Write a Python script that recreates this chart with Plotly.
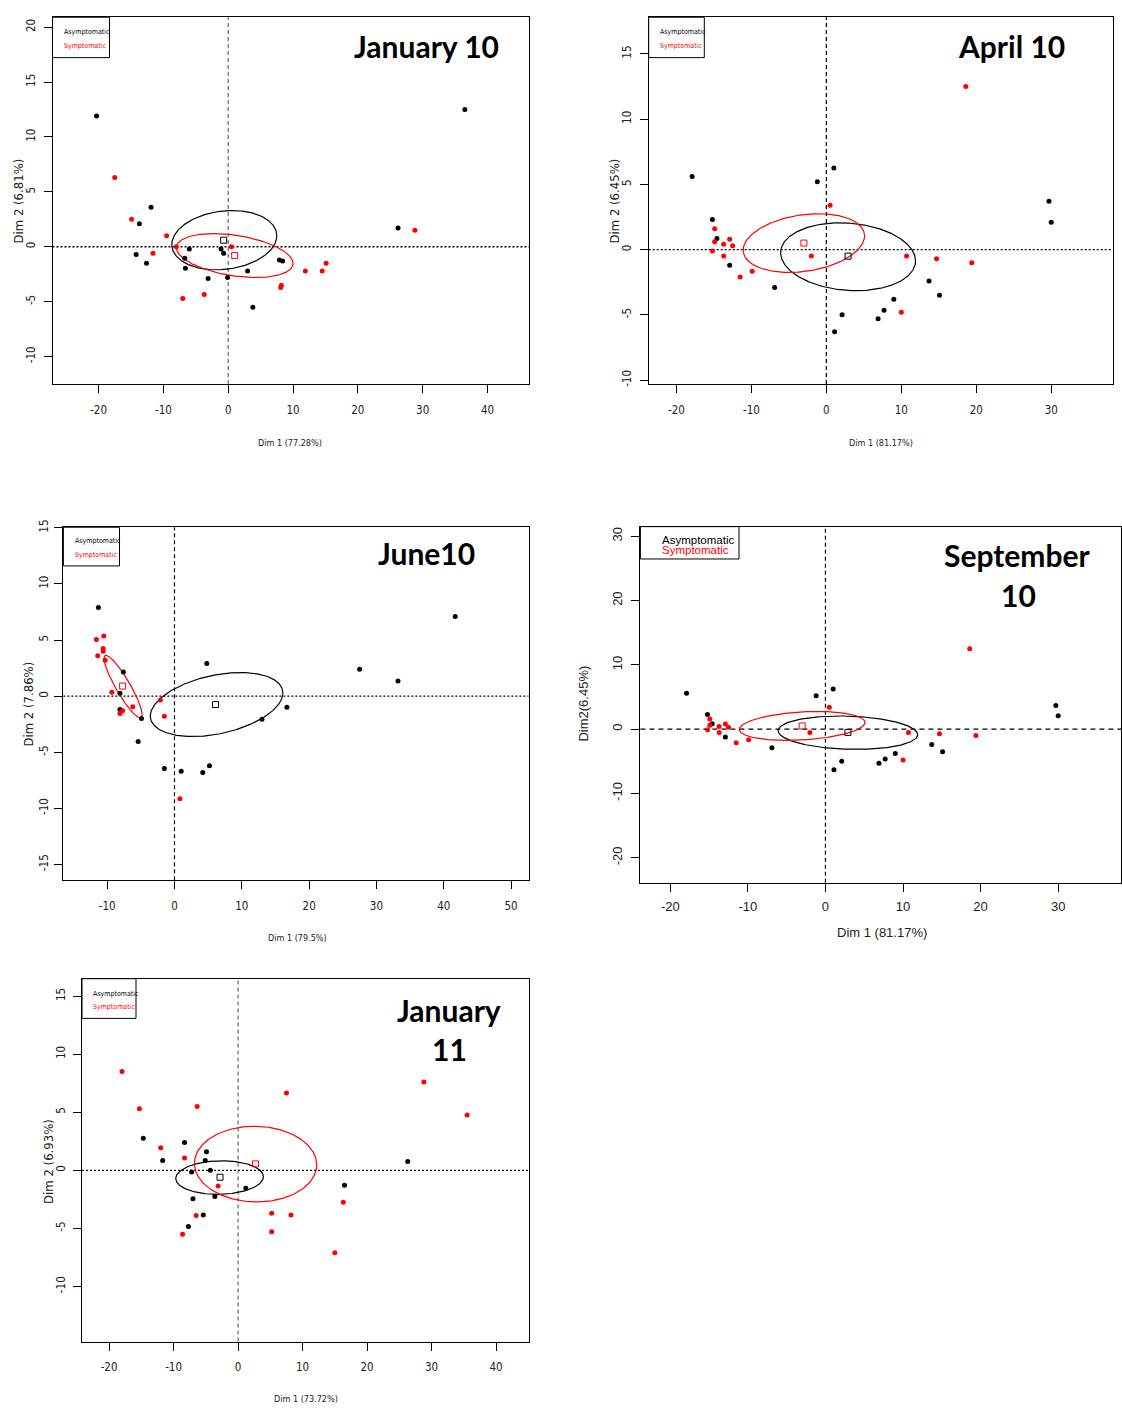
import numpy as np
import plotly.graph_objects as go

W, H = 1122, 1414

# ---------------- January 10 ----------------
jan10_asym_x = [-20.3, 36.5, -11.9, -13.7, -14.2, -12.6, -6.0, -6.7, -6.6, -3.1, -1.1, -0.7, -0.1, 3.0, 3.8, 7.9, 8.4, 26.2]
jan10_asym_y = [11.9, 12.5, 3.6, 2.1, -0.7, -1.5, -0.2, -1.05, -1.95, -2.9, -0.2, -0.6, -2.8, -2.2, -5.5, -1.2, -1.3, 1.7]
jan10_sym_x = [-17.5, -14.9, -9.5, -11.6, -8.0, -7.0, -3.7, 0.5, 8.2, 8.1, 11.9, 14.5, 15.1, 28.8]
jan10_sym_y = [6.3, 2.5, 1.0, -0.6, 0.0, -4.7, -4.35, 0.0, -3.5, -3.7, -2.2, -2.2, -1.5, 1.5]
jan10_asym_center = [-0.7, 0.6]
jan10_sym_center = [1.0, -0.8]
# ellipse: centre x, centre y, half-width, half-height, correlation
jan10_asym_ellipse = [-0.6, 0.6, 8.1, 2.7, 0.15]
jan10_sym_ellipse = [1.0, -0.8, 9.0, 2.0, -0.36]

# ---------------- April 10 / September 10 (same coordinates) ----------------
apr10_asym_x = [-17.9, -1.2, 1.0, -15.2, -14.6, -12.9, -6.9, 2.1, 1.1, 6.9, 7.7, 9.0, 13.7, 15.1, 29.7, 30.0]
apr10_asym_y = [5.6, 5.2, 6.25, 2.3, 0.85, -1.2, -2.9, -5.0, -6.3, -5.3, -4.65, -3.8, -2.4, -3.5, 3.7, 2.1]
apr10_sym_x = [18.6, 0.5, -14.9, -14.9, -15.2, -13.7, -12.9, -12.5, -13.7, -11.5, -9.9, -2.0, 10.7, 14.7, 19.4, 10.0]
apr10_sym_y = [12.5, 3.4, 1.6, 0.6, -0.1, 0.4, 0.8, 0.3, -0.5, -2.1, -1.65, -0.5, -0.5, -0.7, -1.0, -4.8]
apr10_asym_center = [2.9, -0.5]
apr10_sym_center = [-3.0, 0.5]
apr10_asym_ellipse = [2.9, -0.55, 9.0, 2.6, -0.12]
apr10_sym_ellipse = [-3.0, 0.5, 8.1, 2.25, 0.24]

# ---------------- June 10 ----------------
jun10_asym_x = [-11.3, -7.6, -8.1, -8.1, -4.9, -5.4, -1.5, 1.0, 4.2, 5.2, 4.8, 13.0, 16.7, 27.5, 33.2, 41.7]
jun10_asym_y = [7.9, 2.15, 0.25, -1.2, -2.0, -4.05, -6.45, -6.7, -6.8, -6.2, 2.9, -2.05, -1.0, 2.4, 1.35, 7.1]
jun10_sym_x = [-11.6, -10.5, -10.6, -10.6, -11.4, -10.3, -9.3, -6.2, -7.7, -8.1, -2.1, -1.5, 0.8]
jun10_sym_y = [5.05, 5.35, 4.25, 4.0, 3.6, 3.2, 0.35, -0.95, -1.3, -1.55, -0.35, -1.8, -9.15]
jun10_asym_center = [6.1, -0.75]
jun10_sym_center = [-7.7, 0.9]
jun10_asym_ellipse = [6.25, -0.75, 9.85, 2.85, 0.36]
jun10_sym_ellipse = [-7.63, 0.85, 2.83, 2.79, -0.90]

# ---------------- January 11 ----------------
jan11_asym_x = [-14.7, -11.7, -8.3, -4.9, -5.1, -7.2, -4.3, -7.0, -3.6, -5.4, -7.7, 1.2, 16.5, 26.3]
jan11_asym_y = [2.75, 0.85, 2.4, 1.6, 0.85, -0.15, 0.0, -2.45, -2.25, -3.85, -4.85, -1.55, -1.3, 0.75]
jan11_sym_x = [-18.0, -15.3, -6.35, -12.0, -8.3, -3.1, -6.5, -8.6, 7.5, 5.2, 8.2, 5.2, 15.0, 16.3, 28.8, 35.5]
jan11_sym_y = [8.5, 5.3, 5.5, 1.95, 1.05, -1.35, -3.9, -5.5, 6.65, -3.7, -3.85, -5.3, -7.1, -2.75, 7.6, 4.75]
jan11_asym_center = [-2.8, -0.6]
jan11_sym_center = [2.7, 0.55]
jan11_asym_ellipse = [-2.87, -0.63, 6.8, 1.45, 0.05]
jan11_sym_ellipse = [2.71, 0.53, 9.48, 3.26, -0.02]

# ---------------- labels ----------------
titles = [["January 10"], ["April 10"], ["June10"], ["September", "10"], ["January", "11"]]
x_titles = ["Dim 1 (77.28%)", "Dim 1 (81.17%)", "Dim 1 (79.5%)", "Dim 1 (81.17%)", "Dim 1 (73.72%)"]
y_titles = ["Dim 2 (6.81%)", "Dim 2 (6.45%)", "Dim 2 (7.86%)", "Dim2(6.45%)", "Dim 2 (6.93%)"]
x_ticks = [[-20, -10, 0, 10, 20, 30, 40], [-20, -10, 0, 10, 20, 30], [-10, 0, 10, 20, 30, 40, 50],
           [-20, -10, 0, 10, 20, 30], [-20, -10, 0, 10, 20, 30, 40]]
y_ticks = [[-10, -5, 0, 5, 10, 15, 20], [-10, -5, 0, 5, 10, 15], [-15, -10, -5, 0, 5, 10, 15],
           [-20, -10, 0, 10, 20, 30], [-10, -5, 0, 5, 10, 15]]
legend_labels = ["Asymptomatic", "Symptomatic"]

panel_data = [
    (jan10_asym_x, jan10_asym_y, jan10_sym_x, jan10_sym_y, jan10_asym_center, jan10_sym_center, jan10_asym_ellipse, jan10_sym_ellipse),
    (apr10_asym_x, apr10_asym_y, apr10_sym_x, apr10_sym_y, apr10_asym_center, apr10_sym_center, apr10_asym_ellipse, apr10_sym_ellipse),
    (jun10_asym_x, jun10_asym_y, jun10_sym_x, jun10_sym_y, jun10_asym_center, jun10_sym_center, jun10_asym_ellipse, jun10_sym_ellipse),
    (apr10_asym_x, apr10_asym_y, apr10_sym_x, apr10_sym_y, apr10_asym_center, apr10_sym_center, apr10_asym_ellipse, apr10_sym_ellipse),
    (jan11_asym_x, jan11_asym_y, jan11_sym_x, jan11_sym_y, jan11_asym_center, jan11_sym_center, jan11_asym_ellipse, jan11_sym_ellipse),
]

# ---------------- layout (pixel boxes) ----------------
R_FONT = "Liberation Sans Narrow, Arial Narrow, DejaVu Sans Condensed, sans-serif"
A_FONT = "Liberation Sans, Arial, sans-serif"
panel_style = [
    dict(box=(52.5, 9.3, 529, 379), xr=(-27.1, 46.4), yr=(-12.5, 20.9), font=R_FONT, tfs=11.5, hdash="2px,2px", vcol="#666",
         xstand=7, ystand=4, xt=(290, 438), yt=(18, 195), leg=(52.5, 9.3, 109.5, 50), legtxt=(61.5, 24.3, 38.3), lfs=7,
         title=[(426, 38)]),
    dict(box=(648.7, 9.3, 1112.7, 379), xr=(-23.7, 38.2), yr=(-10.3, 17.8), font=R_FONT, tfs=11.5, hdash="2px,2px", vcol="#000",
         xstand=7, ystand=4, xt=(881, 438), yt=(614, 195), leg=(648.7, 9.3, 704.3, 50), legtxt=(658, 24, 38), lfs=7,
         title=[(1011, 38)]),
    dict(box=(63.4, 523.3, 528.6, 879), xr=(-16.5, 52.6), yr=(-16.4, 15.05), font=R_FONT, tfs=11.5, hdash="2px,2px", vcol="#000",
         xstand=7, ystand=2, xt=(297, 937), yt=(29, 702), leg=(63.4, 523.3, 119.5, 562.3), legtxt=(73, 537.3, 551.3), lfs=7,
         title=[(426, 549)]),
    dict(box=(640.4, 522.7, 1121, 881.7), xr=(-23.85, 38.1), yr=(-23.9, 31.5), font=A_FONT, tfs=13, hdash="5px,4px", vcol="#000",
         xstand=4, ystand=4, xt=(882, 932), yt=(584, 701), leg=(640.4, 522.7, 739, 555.3), legtxt=(660.5, 535.7, 546.7), lfs=11.5,
         title=[(1016.5, 551), (1018, 592)]),
    dict(box=(82, 978.3, 529, 1344), xr=(-24.2, 45.1), yr=(-14.75, 16.5), font=R_FONT, tfs=11.5, hdash="2px,2px", vcol="#666",
         xstand=7, ystand=3, xt=(305.5, 1402), yt=(49, 1163), leg=(82, 978.3, 136, 1018.3), legtxt=(91, 993.3, 1007.3), lfs=7,
         title=[(449, 1010), (449, 1049)]),
]


def px(x):
    return x / W


def py(y):
    return 1 - y / H


fig = go.Figure()
layout = dict(width=W, height=H, margin=dict(l=0, r=0, t=0, b=0), paper_bgcolor="white",
              plot_bgcolor="white", showlegend=False)
shapes, annotations = [], []

for i, (data, st) in enumerate(zip(panel_data, panel_style), start=1):
    ax_x = "x" if i == 1 else f"x{i}"
    ax_y = "y" if i == 1 else f"y{i}"
    ax_x_name = "xaxis" if i == 1 else f"xaxis{i}"
    ax_y_name = "yaxis" if i == 1 else f"yaxis{i}"
    asym_x, asym_y, sym_x, sym_y, asym_c, sym_c, asym_e, sym_e = data

    t = np.linspace(0, 2 * np.pi, 361)
    for ell, col in ((asym_e, "black"), (sym_e, "red")):
        cx, cy, hw, hh, r = ell
        d = np.arccos(r)
        fig.add_trace(go.Scatter(x=cx + hw * np.cos(t), y=cy + hh * np.cos(t - d), mode="lines",
                                 line=dict(color=col, width=1.2), xaxis=ax_x, yaxis=ax_y, hoverinfo="skip"))
    fig.add_trace(go.Scatter(x=asym_x, y=asym_y, mode="markers", marker=dict(color="black", size=5),
                             xaxis=ax_x, yaxis=ax_y, name="Asymptomatic"))
    fig.add_trace(go.Scatter(x=sym_x, y=sym_y, mode="markers", marker=dict(color="red", size=5),
                             xaxis=ax_x, yaxis=ax_y, name="Symptomatic"))
    fig.add_trace(go.Scatter(x=[asym_c[0]], y=[asym_c[1]], mode="markers",
                             marker=dict(symbol="square-open", color="black", size=6, line=dict(width=1)),
                             xaxis=ax_x, yaxis=ax_y))
    fig.add_trace(go.Scatter(x=[sym_c[0]], y=[sym_c[1]], mode="markers",
                             marker=dict(symbol="square-open", color="red", size=6, line=dict(width=1)),
                             xaxis=ax_x, yaxis=ax_y))

    l, tp, rgt, bt = st["box"]
    tickfont = dict(family=st["font"], size=st["tfs"], color="#222")
    xt_vals, yt_vals = x_ticks[i - 1], y_ticks[i - 1]
    layout[ax_x_name] = dict(domain=[px(l), px(rgt)], range=list(st["xr"]), anchor=ax_y, tickvals=xt_vals,
                             ticktext=[str(v) for v in xt_vals],
                             ticks="outside", ticklen=8, tickcolor="black", showline=True, mirror=True,
                             linecolor="black", linewidth=1, showgrid=False, zeroline=False, tickfont=tickfont,
                             ticklabelstandoff=st["xstand"])
    layout[ax_y_name] = dict(domain=[py(bt), py(tp)], range=list(st["yr"]), anchor=ax_x, tickvals=yt_vals,
                             ticktext=[str(v) for v in yt_vals],
                             ticks="outside", ticklen=8, tickcolor="black", showline=True, mirror=True,
                             linecolor="black", linewidth=1, showgrid=False, zeroline=False, tickfont=tickfont,
                             tickangle=-90, ticklabelstandoff=st["ystand"])

    # reference lines
    shapes.append(dict(type="line", xref=f"{ax_x} domain", x0=0, x1=1, yref=ax_y, y0=0, y1=0,
                       line=dict(color="black", width=1.3, dash=st["hdash"]), layer="below"))
    shapes.append(dict(type="line", xref=ax_x, x0=0, x1=0, yref=f"{ax_y} domain", y0=0, y1=1,
                       line=dict(color=st["vcol"], width=1.2, dash="4px,3px"), layer="below"))

    # legend box
    ll, lt, lr, lb = st["leg"]
    shapes.append(dict(type="rect", xref="paper", yref="paper", x0=px(ll), x1=px(lr), y0=py(lb), y1=py(lt),
                       line=dict(color="black", width=1), fillcolor="white"))
    tx, ty1, ty2 = st["legtxt"]
    for lab, yy, col in ((legend_labels[0], ty1, "black"), (legend_labels[1], ty2, "red")):
        annotations.append(dict(text=lab, x=px(tx), y=py(yy), xref="paper", yref="paper", xanchor="left",
                                yanchor="middle", showarrow=False, font=dict(family=st["font"], size=st["lfs"], color=col)))

    # axis titles
    annotations.append(dict(text=x_titles[i - 1], x=px(st["xt"][0]), y=py(st["xt"][1]), xref="paper", yref="paper",
                            xanchor="center", yanchor="middle", showarrow=False,
                            font=dict(family=st["font"], size=(9 if st["font"] == R_FONT else 13), color="#222")))
    annotations.append(dict(text=y_titles[i - 1], x=px(st["yt"][0]), y=py(st["yt"][1]), xref="paper", yref="paper",
                            xanchor="center", yanchor="middle", showarrow=False, textangle=-90,
                            font=dict(family=st["font"], size=(13 if st["font"] == R_FONT else 13), color="#222")))

    # panel titles
    for line, (cx, cy) in zip(titles[i - 1], st["title"]):
        annotations.append(dict(text=f"<b>{line}</b>", x=px(cx), y=py(cy), xref="paper", yref="paper",
                                xanchor="center", yanchor="middle", showarrow=False,
                                font=dict(family="Lato, Open Sans, sans-serif", size=30, color="black")))

layout["shapes"] = shapes
layout["annotations"] = annotations
fig.update_layout(**layout)
fig.write_html("out.html", config={"displayModeBar": False},
               post_script="document.body.style.margin='0';document.body.style.padding='0';"
                           "document.documentElement.style.overflow='hidden';")
